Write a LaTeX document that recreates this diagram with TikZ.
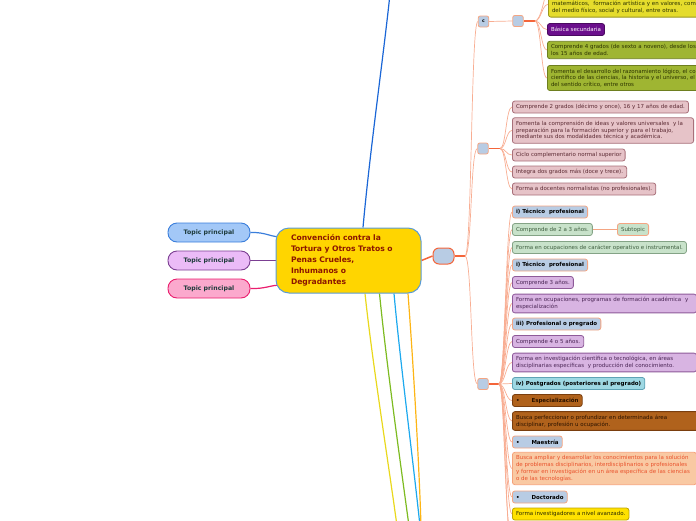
\documentclass[tikz,border=0pt]{standalone}
\usepackage{fontspec}
\setmainfont{DejaVu Sans}
\usetikzlibrary{positioning,calc,backgrounds}
\definecolor{convgold}{HTML}{FFD500}
\definecolor{convline}{HTML}{5B9BD5}
\definecolor{convtext}{HTML}{8B1500}
\definecolor{tblue}{HTML}{A3C8F7}
\definecolor{tblueline}{HTML}{3A7EDB}
\definecolor{tlila}{HTML}{EBBBF7}
\definecolor{tlilaline}{HTML}{7B3F92}
\definecolor{trosa}{HTML}{FBA9CD}
\definecolor{trosaline}{HTML}{EA1E6E}
\definecolor{ttext}{HTML}{1E3B3B}
\definecolor{topblue}{HTML}{1A66D6}
\definecolor{lyellow}{HTML}{E9D81C}
\definecolor{lgreen}{HTML}{7DBB21}
\definecolor{lsky}{HTML}{1DA9EE}
\definecolor{lorange}{HTML}{FDB515}
\definecolor{hubred}{HTML}{F4653A}
\definecolor{twigpink}{HTML}{F8AD92}
\definecolor{hubfill}{HTML}{B8CCE4}
\definecolor{salmon}{HTML}{F4A582}
\definecolor{rosafill}{HTML}{E6C3C8}
\definecolor{rosaline}{HTML}{A8707A}
\definecolor{rosatext}{HTML}{5C2A33}
\definecolor{verdefill}{HTML}{C8E2CA}
\definecolor{verdeline}{HTML}{84A386}
\definecolor{verdetext}{HTML}{3F5F40}
\definecolor{lilafill}{HTML}{D8B4E2}
\definecolor{lilaline}{HTML}{8E5A99}
\definecolor{lilatext}{HTML}{4A2555}
\definecolor{cianfill}{HTML}{9ED8E3}
\definecolor{cianline}{HTML}{5FA3B5}
\definecolor{cafefill}{HTML}{B0621C}
\definecolor{cafeline}{HTML}{7A3E0E}
\definecolor{cafetext}{HTML}{2A1200}
\definecolor{durazfill}{HTML}{F9C9A3}
\definecolor{durazline}{HTML}{F5A27A}
\definecolor{duraztext}{HTML}{E9522C}
\definecolor{amafill}{HTML}{FFE100}
\definecolor{amaline}{HTML}{BFA400}
\definecolor{amatext}{HTML}{2B2B00}
\definecolor{limafill}{HTML}{E5DC2C}
\definecolor{limaline}{HTML}{9A9620}
\definecolor{morado}{HTML}{6B0F8C}
\definecolor{moradoline}{HTML}{4A0A60}
\definecolor{olivafill}{HTML}{9FB532}
\definecolor{olivaline}{HTML}{6E7F1F}
\definecolor{olivatext}{HTML}{2C3300}
\tikzset{
  % centro y temas
  conv/.style={draw=convline,fill=convgold,line width=1pt,rounded corners=13pt,
               text=convtext,text width=115pt,inner xsep=15pt,minimum height=65pt,
               align=left,font=\bfseries\fontsize{7.6}{11}\selectfont},
  topic/.style={rounded corners=9pt,line width=0.9pt,minimum width=82pt,minimum height=19pt,
                inner sep=0pt,text=ttext,font=\bfseries\fontsize{6.2}{7}\selectfont},
  % ramas
  mainline/.style={line width=1.2pt},
  hubline/.style={draw=hubred,line width=1.5pt},
  twig/.style={draw=twigpink,line width=0.7pt},
  hub/.style={draw=hubred,fill=hubfill,line width=1pt,rounded corners=6pt,
              minimum width=21pt,minimum height=16pt,inner sep=0pt},
  knot/.style={draw=salmon,fill=hubfill,line width=0.8pt,rounded corners=2pt,
               minimum width=10.5pt,minimum height=11pt,inner sep=0pt,
               font=\bfseries\fontsize{4.6}{5}\selectfont},
  % cajas
  box/.style={draw,rounded corners=2.5pt,line width=0.8pt,anchor=west,align=left,
              inner xsep=3.6pt,inner ysep=3.2pt,minimum height=12pt,
              font=\fontsize{5.5}{6.8}\selectfont},
  titulo/.style={fill=hubfill,draw=salmon,text=black,font=\bfseries\fontsize{5.5}{6.8}\selectfont},
  rosa/.style={fill=rosafill,draw=rosaline,text=rosatext},
  verde/.style={fill=verdefill,draw=verdeline,text=verdetext},
  lila/.style={fill=lilafill,draw=lilaline,text=lilatext},
  cian/.style={fill=cianfill,draw=cianline,text=black,font=\bfseries\fontsize{5.5}{6.8}\selectfont},
  cafe/.style={fill=cafefill,draw=cafeline,text=cafetext},
  duraz/.style={fill=durazfill,draw=durazline,text=duraztext},
  amarillo/.style={fill=amafill,draw=amaline,text=amatext},
  lima/.style={fill=limafill,draw=limaline,text=olivatext},
  morado/.style={fill=morado,draw=moradoline,text=white},
  oliva/.style={fill=olivafill,draw=olivaline,text=olivatext},
}

\begin{document}
\begin{tikzpicture}[x=1pt,y=-1pt]
  \useasboundingbox (0,0) rectangle (696,520);
  \clip (0,0) rectangle (696,520);
  \node[conv] (conv) at (348.5,260.5) {Convención contra la\\Tortura y Otros Tratos o\\Penas Crueles,\\Inhumanos o\\Degradantes};
  \node[topic,draw=tblueline,fill=tblue] (t1) at (209,232.5) {Topic principal};
  \node[topic,draw=tlilaline,fill=tlila] (t2) at (209,260.5) {Topic principal};
  \node[topic,draw=trosaline,fill=trosa] (t3) at (209,288.5) {Topic principal};
  \node[hub] (hub) at (443.5,256) {};
  \node[knot] (c) at (483.5,21.5) {c};
  \node[knot] (c1) at (518,21) {};
  \node[knot] (n2) at (483,148.5) {};
  \node[knot] (n3) at (483,384) {};
  % rama c
  \node[box,lima,anchor=south west,text width=160pt] (ca) at (548,17.5) {Desarrolla habilidades comunicativas, conocimientos\\matemáticos,~ formación artística y en valores, com\\del medio físico, social y cultural, entre otras.};
  \node[box,morado] (cb) at (547,29.5) {Básica secundaria};
  \node[box,oliva,text width=160pt] (cc) at (547,50) {Comprende 4 grados (de sexto a noveno), desde los\\los 15 años de edad.};
  \node[box,oliva,text width=160pt] (cd) at (547,78) {Fomenta el desarrollo del razonamiento lógico, el co\\científico de las ciencias, la historia y el universo, el\\del sentido crítico, entre otros};
  % rama media
  \node[box,rosa] (p1) at (512,107) {Comprende 2 grados (décimo y once), 16 y 17 años de edad.};
  \node[box,rosa,text width=174pt] (p2) at (512,130.5) {Fomenta la comprensión de ideas y valores universales~ y la\\preparación para la formación superior y para el trabajo,\\mediante sus dos modalidades técnica y académica.};
  \node[box,rosa] (p3) at (512,155) {Ciclo complementario normal superior};
  \node[box,rosa] (p4) at (512,172) {Integra dos grados más (doce y trece).};
  \node[box,rosa] (p5) at (512,189) {Forma a docentes normalistas (no profesionales).};
  % rama baja
  \node[box,titulo] (q1) at (512,212) {i) Técnico~ profesional};
  \node[box,verde] (q2) at (512,229.5) {Comprende de 2 a 3 años.};
  \node[box,verde,draw=salmon] (sub) at (617,229.5) {Subtopic};
  \node[box,verde] (q3) at (512,247.5) {Forma en ocupaciones de carácter operativo e instrumental.};
  \node[box,titulo] (q4) at (512,265) {i) Técnico~ profesional};
  \node[box,lila] (q5) at (512,282.5) {Comprende 3 años.};
  \node[box,lila,text width=177pt] (q6) at (512,303.5) {Forma en ocupaciones, programas de formación académica~ y\\especialización};
  \node[box,titulo] (q7) at (512,324) {iii) Profesional o pregrado};
  \node[box,lila] (q8) at (512,341.5) {Comprende 4 o 5 años.};
  \node[box,lila,text width=177pt] (q9) at (512,362.5) {Forma en investigación científica o tecnológica, en áreas\\disciplinarias específicas~ y producción del conocimiento.};
  \node[box,cian] (q10) at (512,383.5) {iv) Postgrados (posteriores al pregrado)};
  \node[box,cafe,font=\bfseries\fontsize{5.5}{6.8}\selectfont] (q11) at (512,400.5) {•\hspace{12pt}Especialización};
  \node[box,cafe,text width=180pt] (q12) at (512,421) {Busca perfeccionar o profundizar en determinada área\\disciplinar, profesión u ocupación.};
  \node[box,titulo] (q13) at (512,442) {•\hspace{12pt}Maestría};
  \node[box,duraz,text width=177pt] (q14) at (512,468.5) {Busca ampliar y desarrollar los conocimientos para la solución\\de problemas disciplinarios, interdisciplinarios o profesionales\\y formar en investigación en un área específica de las ciencias\\o de las tecnologías.};
  \node[box,titulo] (q15) at (512,497) {•\hspace{12pt}Doctorado};
  \node[box,amarillo] (q16) at (512,514) {Forma investigadores a nivel avanzado.};
  % puntos de rama
  \coordinate (rb) at (465,256);
  \coordinate (cb0) at (535,21);
  \coordinate (pb) at (500,148.5);
  \coordinate (qb) at (499,384);
  \coordinate (cup) at (548,-14);
  \coordinate (qdown1) at (512,540);
  \coordinate (qdown2) at (512,560);
  \coordinate (up) at (390,-6);
  \coordinate (dn1) at (397,526);
  \coordinate (dn2) at (409,526);
  \coordinate (dn3) at (420,526);
  \coordinate (dn4) at (421,526);
  \begin{scope}[on background layer]
  \draw[mainline,tblueline] (t1.east) .. controls (266,232) and (270,237) .. ($(conv.west)+(6,-23.5)$);
  \draw[mainline,tlilaline] (t2.east) -- (conv.west);
  \draw[mainline,trosaline] (t3.east) .. controls (266,289) and (270,285) .. ($(conv.west)+(6,24.5)$);
  \draw[mainline,topblue] ($(conv.north)+(14.5,0)$) .. controls (370,150) and (383,60) .. (up);
  \draw[mainline,lyellow] ($(conv.south)+(16.5,0)$) .. controls (372,360) and (388,460) .. (dn1);
  \draw[mainline,lgreen] ($(conv.south)+(31,0)$) .. controls (386,360) and (400,460) .. (dn2);
  \draw[mainline,lsky] ($(conv.south)+(45.5,0)$) .. controls (400,360) and (413,460) .. (dn3);
  \draw[mainline,lorange] ($(conv.south)+(59.5,0)$) .. controls (413,360) and (419,460) .. (dn4);
  \draw[hubline] (conv.east) -- (hub.west);
  \draw[hubline] (hub.east) -- (rb);
  \foreach \n in {c,n2,n3}
    \draw[twig] (rb) .. controls +(7,0) and +(-7,0) .. (\n.west);
  \draw[twig] (c.east) -- (c1.west);
  \draw[hubline] (c1.east) -- (cb0);
  \foreach \n in {ca,cb,cc,cd}
    \draw[twig] (cb0) .. controls +(6,0) and +(-6,0) .. (\n.west);
  \draw[twig] (cb0) .. controls +(6,0) and +(-3,8) .. (cup);
  \draw[hubline] (n2.east) -- (pb);
  \foreach \n in {p1,p2,p3,p4,p5}
    \draw[twig] (pb) .. controls +(6,0) and +(-6,0) .. (\n.west);
  \draw[hubline] (n3.east) -- (qb);
  \foreach \n in {q1,q2,q3,q4,q5,q6,q7,q8,q9,q10,q11,q12,q13,q14,q15,q16}
    \draw[twig] (qb) .. controls +(6,0) and +(-6,0) .. (\n.west);
  \draw[twig] (qb) .. controls +(6,0) and +(-8,-10) .. (qdown1);
  \draw[twig] (qb) .. controls +(6,0) and +(-6,-10) .. (qdown2);
  \draw[twig,line width=1pt,draw=salmon] (q2.east) -- (sub.west);
  \end{scope}
\end{tikzpicture}
\end{document}
